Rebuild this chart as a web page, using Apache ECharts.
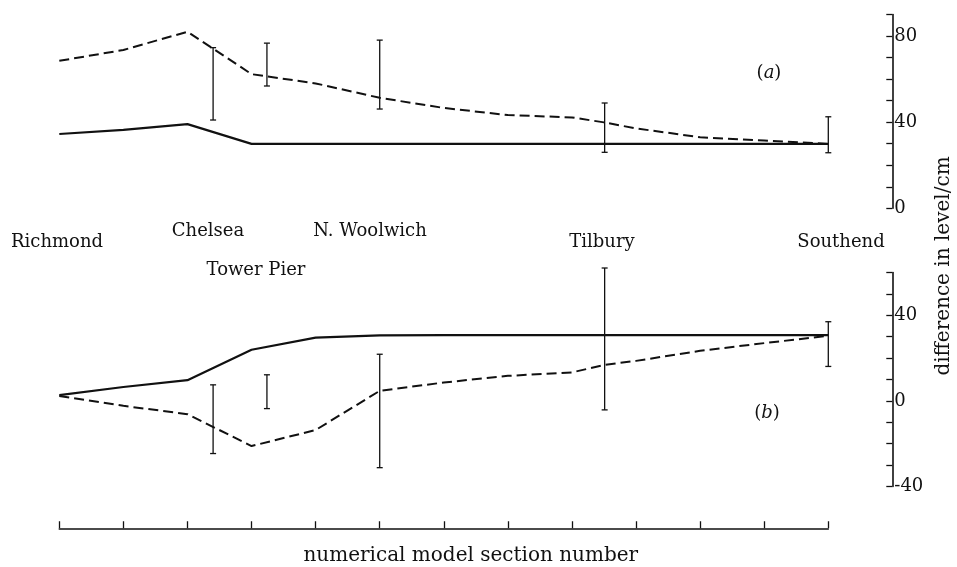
<!DOCTYPE html>
<html><head><meta charset="utf-8">
<script src="https://cdn.jsdelivr.net/npm/echarts@6/dist/echarts.min.js"></script>
<style>html,body{margin:0;padding:0;background:#fff}#c{width:957px;height:567px}</style>
</head><body><div id="c"></div>
<script>
// ---- data ----
const sections = [0,1,2,3,4,5,6,7,8,9,10,11,12];
const solidA = [34.5,36.4,39.1,29.9,29.9,29.9,29.9,29.9,29.9,29.9,29.9,29.9,29.9];
const solidB = [2.7,6.5,9.7,23.9,29.6,30.6,30.7,30.7,30.7,30.7,30.7,30.7,30.7];
const dashedX = [0,1,2,3,4,5,6,7,8,8.5,9,10,11,12];
const dashedA = [68.5,73.5,82.0,62.3,58.0,51.3,46.6,43.3,42.2,39.9,37.1,33.0,31.5,29.9];
const dashedB = [2.3,-2.3,-6.2,-21.1,-13.6,4.7,8.6,11.7,13.3,16.8,18.7,23.4,27.0,30.4];
const barX = [2.4,3.24,5.0,8.51,12.0];
const errAlow = [41.0,56.8,46.1,26.0,25.8];
const errAhigh = [74.6,76.7,78.1,48.9,42.5];
const errBlow = [-24.6,-3.6,-31.2,-4.2,16.1];
const errBhigh = [7.5,12.2,21.8,62.1,37.0];
const ticksA = [0,40,80];
const ticksB = [-40,0,40];
const placeNames = ['Richmond','Chelsea','Tower Pier','N. Woolwich','Tilbury','Southend'];

// ---- chart ----
const INK = '#111';
const FONT = '"DejaVu Serif", serif';
const chart = echarts.init(document.getElementById('c'), null, {renderer:'canvas'});

function pairs(xs, ys){ return xs.map((x,i)=>[x, ys[i]]); }
function bars(xs, lo, hi){ return xs.map((x,i)=>[x, lo[i], hi[i]]); }

function errRender(params, api){
  const x = api.value(0), lo = api.value(1), hi = api.value(2);
  const p1 = api.coord([x, lo]), p2 = api.coord([x, hi]);
  const w = 3;
  const st = {stroke: INK, lineWidth: 1.3};
  return {type:'group', children:[
    {type:'line', shape:{x1:p1[0], y1:p1[1], x2:p2[0], y2:p2[1]}, style:st},
    {type:'line', shape:{x1:p1[0]-w, y1:p1[1], x2:p1[0]+w, y2:p1[1]}, style:st},
    {type:'line', shape:{x1:p2[0]-w, y1:p2[1], x2:p2[0]+w, y2:p2[1]}, style:st}
  ]};
}

function yAxisCfg(grid, min, max, labels){
  return {
    gridIndex: grid, type:'value', position:'right', offset:64,
    min:min, max:max, interval:10,
    axisLine:{show:true, onZero:false, lineStyle:{color:INK, width:1.6}},
    axisTick:{show:true, inside:true, length:6, lineStyle:{color:INK, width:1.3}},
    axisLabel:{formatter: v => labels.indexOf(v) >= 0 ? String(v) : '',
      color:INK, fontFamily:FONT, fontSize:18, margin:2},
    splitLine:{show:false}
  };
}

const labelFont = '18px "DejaVu Serif"';
function place(i, x, y){
  return {type:'text', x:x, y:y, silent:true,
    style:{text:placeNames[i], font:labelFont, fill:INK, align:'center', verticalAlign:'middle'}};
}
function tag(letter, x, y){
  return {type:'text', x:x, y:y, silent:true,
    style:{text:'{n|(}{i|'+letter+'}{n|)}', align:'center', verticalAlign:'middle', fill:INK,
      rich:{n:{fontFamily:FONT, fontSize:18, fill:INK}, i:{fontFamily:FONT, fontStyle:'italic', fontSize:18, fill:INK}}}};
}

chart.setOption({
  animation:false,
  backgroundColor:'#fff',
  grid:[
    {left:59.3, right:128.7, top:14.5, height:193.8},
    {left:59.3, right:128.7, top:272.5, height:214},
    {left:59.3, right:128.7, top:528, height:1}
  ],
  xAxis:[
    {gridIndex:0, type:'value', min:0, max:12, show:false},
    {gridIndex:1, type:'value', min:0, max:12, show:false},
    {gridIndex:2, type:'value', min:0, max:12, interval:1,
     axisLine:{show:true, onZero:false, lineStyle:{color:INK, width:1.6}},
     axisTick:{show:true, inside:true, length:7, lineStyle:{color:INK, width:1.3}},
     axisLabel:{show:false}, splitLine:{show:false},
     name:'numerical model section number', nameLocation:'middle', nameGap:18,
     nameTextStyle:{fontFamily:FONT, fontSize:20, color:INK, padding:[0,0,0,54]}}
  ],
  yAxis:[
    yAxisCfg(0, 0, 90, ticksA),
    yAxisCfg(1, -40, 60, ticksB),
    {gridIndex:2, type:'value', show:false, min:0, max:1}
  ],
  series:[
    {type:'line', xAxisIndex:0, yAxisIndex:0, data:pairs(sections, solidA), showSymbol:false,
     lineStyle:{color:INK, width:2.2}},
    {type:'line', xAxisIndex:0, yAxisIndex:0, data:pairs(dashedX, dashedA), showSymbol:false,
     lineStyle:{color:INK, width:2, type:[10,5]}},
    {type:'custom', xAxisIndex:0, yAxisIndex:0, data:bars(barX, errAlow, errAhigh),
     renderItem:errRender, clip:false, encode:{x:0, y:[1,2]}},
    {type:'line', xAxisIndex:1, yAxisIndex:1, data:pairs(sections, solidB), showSymbol:false,
     lineStyle:{color:INK, width:2.2}},
    {type:'line', xAxisIndex:1, yAxisIndex:1, data:pairs(dashedX, dashedB), showSymbol:false,
     lineStyle:{color:INK, width:2, type:[10,5]}},
    {type:'custom', xAxisIndex:1, yAxisIndex:1, data:bars(barX, errBlow, errBhigh),
     renderItem:errRender, clip:false, encode:{x:0, y:[1,2]}}
  ],
  graphic:[
    place(0, 57, 242),
    place(1, 208, 231),
    place(2, 256, 270),
    place(3, 370, 231),
    place(4, 602, 242),
    place(5, 841, 242),
    tag('a', 769, 73),
    tag('b', 767, 413),
    {type:'text', x:944, y:266, rotation:Math.PI/2, silent:true,
     style:{text:'difference in level/cm', font:'20px "DejaVu Serif"', fill:INK, align:'center', verticalAlign:'middle'}}
  ]
});
</script>
</body></html>
